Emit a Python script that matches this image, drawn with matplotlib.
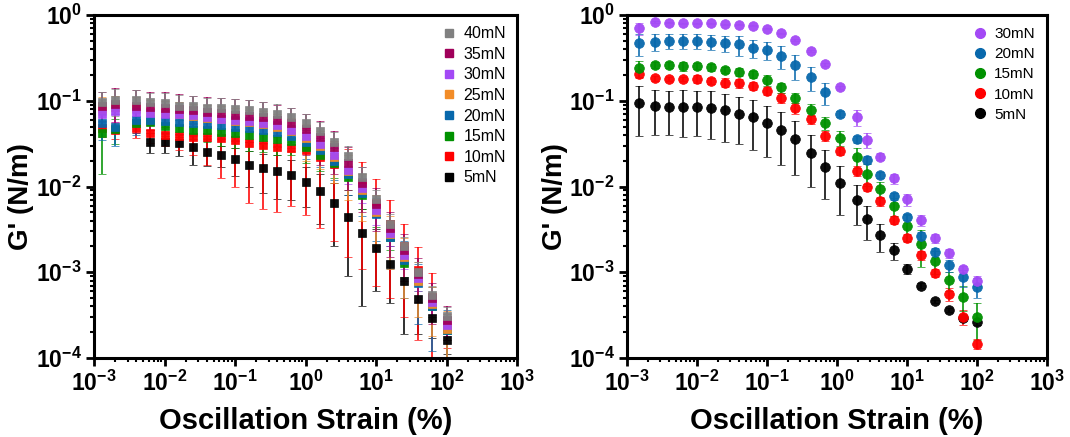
import numpy as np
import matplotlib
matplotlib.use('Agg')
import matplotlib.pyplot as plt
from matplotlib.lines import Line2D
from matplotlib.ticker import LogLocator, FuncFormatter, NullFormatter

plt.rcParams['font.family'] = ['Liberation Sans', 'DejaVu Sans']
plt.rcParams['mathtext.fontset'] = 'custom'
plt.rcParams['mathtext.rm'] = 'Liberation Sans'
plt.rcParams['mathtext.bf'] = 'Liberation Sans:bold'

nan = np.nan

# 歪み (%) : 左図 / 右図
strain_l = [0.0013, 0.002, 0.004, 0.0063, 0.01, 0.016, 0.025, 0.04, 0.063, 0.1, 0.16, 0.25,
            0.4, 0.63, 1.0, 1.6, 2.5, 4.0, 6.3, 10, 16, 25, 40, 63, 100]
strain_r = [0.0015, 0.0025, 0.004, 0.0063, 0.01, 0.016, 0.025, 0.04, 0.063, 0.1, 0.16, 0.25,
            0.42, 0.68, 1.12, 1.9, 2.7, 4.1, 6.5, 10, 16, 25, 40, 63, 100]

# 左図 G' (N/m)
g40 = [0.0975, 0.102, 0.102, 0.096, 0.093, 0.088, 0.087, 0.083, 0.082, 0.080, 0.078, 0.0745,
       0.071, 0.064, 0.055, 0.044, 0.033, 0.0225, 0.013, 0.0071, 0.0037, 0.002, 0.001, 0.00054, 0.00031]
g35 = [0.088, 0.092, 0.087, 0.085, 0.083, 0.080, 0.077, 0.074, 0.072, 0.069, 0.067, 0.064,
       0.060, 0.055, 0.047, 0.038, 0.029, 0.019, 0.011, 0.0063, 0.0033, 0.0018, 0.00095, 0.0005, 0.00028]
g30 = [0.071, 0.076, 0.0745, 0.072, 0.071, 0.0705, 0.068, 0.065, 0.062, 0.060, 0.058, 0.0555,
       0.052, 0.046, 0.039, 0.031, 0.0235, 0.0157, 0.0095, 0.0053, 0.0029, 0.0016, 0.00085, 0.00045, 0.00024]
g25 = [0.080, 0.085, 0.082, 0.074, 0.072, 0.070, 0.066, 0.063, 0.061, 0.058, 0.056, 0.053,
       0.050, 0.044, 0.037, 0.030, 0.022, 0.015, 0.009, 0.005, 0.0028, 0.0015, 0.0008, 0.00043, 0.00022]
g20 = [0.055, 0.050, 0.060, 0.060, 0.058, 0.056, 0.055, 0.054, 0.052, 0.050, 0.048, 0.046,
       0.043, 0.039, 0.033, 0.027, 0.02, 0.014, 0.0085, 0.0048, 0.0026, 0.0014, 0.00075, 0.0004, 0.00021]
g15 = [0.042, 0.0465, 0.0546, 0.057, 0.051, 0.0485, 0.0455, 0.045, 0.0435, 0.042, 0.040, 0.038,
       0.0355, 0.034, 0.029, 0.0233, 0.0187, 0.013, 0.008, 0.0049, 0.0026, 0.00127, 0.00081, 0.0004, 0.00021]
g10 = [0.048, 0.046, 0.0485, 0.042, 0.040, 0.039, 0.038, 0.038, 0.0365, 0.035, 0.0325, 0.0305,
       0.029, 0.028, 0.0267, 0.0223, 0.0183, 0.0145, 0.0101, 0.0065, 0.0037, 0.002, 0.00106, 0.00052, 0.00023]
g5 = [nan, nan, nan, 0.0333, 0.0333, 0.0319, 0.0289, 0.0255, 0.0233, 0.0207, 0.0178, 0.0163,
      0.0152, 0.0136, 0.0114, 0.0089, 0.0065, 0.0044, 0.0029, 0.0019, 0.00124, 0.00079, 0.00049, 0.00029, 0.00016]

e40 = [0.03, 0.035, 0.03, 0.028, 0.03, 0.028, 0.026, 0.025, 0.025, 0.024, 0.023, 0.022,
       0.02, 0.018, 0.016, 0.013, 0.01, 0.007, 0.004, 0.002, 0.0011, 0.0006, 0.0003, 0.00015, 0.00008]
e35 = [0.04, 0.05, 0.045, 0.04, 0.042, 0.04, 0.038, 0.038, 0.036, 0.035, 0.034, 0.032,
       0.03, 0.027, 0.024, 0.02, 0.015, 0.01, 0.006, 0.0033, 0.0018, 0.001, 0.0005, 0.00025, 0.00012]
e30 = [0.015, 0.02, 0.02, 0.018, 0.018, 0.018, 0.017, 0.017, 0.016, 0.016, 0.015, 0.015,
       0.014, 0.013, 0.011, 0.009, 0.007, 0.005, 0.003, 0.0017, 0.0009, 0.0005, 0.00025, 0.00013, 0.00006]
e25 = [0.03, 0.03, 0.03, 0.028, 0.028, 0.027, 0.026, 0.026, 0.025, 0.024, 0.023, 0.022,
       0.021, 0.019, 0.017, 0.014, 0.011, 0.008, 0.005, 0.003, 0.0017, 0.001, 0.0005, 0.00025, 0.00013]
e20 = [0.02, 0.02, 0.02, 0.015, 0.015, 0.015, 0.015, 0.015, 0.015, 0.015, 0.015, 0.014,
       0.014, 0.013, 0.012, 0.01, 0.008, 0.006, 0.004, 0.0025, 0.0015, 0.0009, 0.0005, 0.00028, 0.00015]
e15 = [0.028, 0.015, 0.012, 0.012, 0.012, 0.011, 0.01, 0.012, 0.014, 0.014, 0.014, 0.013,
       0.012, 0.011, 0.01, 0.008, 0.006, 0.004, 0.0025, 0.0015, 0.0008, 0.0004, 0.0002, 0.0001, 0.00005]
e10 = [0.01, 0.01, 0.012, 0.01, 0.01, 0.012, 0.015, 0.02, 0.024, 0.025, 0.026, 0.025,
       0.024, 0.022, 0.022, 0.019, 0.016, 0.013, 0.009, 0.0058, 0.0032, 0.0017, 0.0009, 0.00045, 0.0001]
e5 = [nan, nan, nan, 0.009, 0.009, 0.009, 0.011, 0.008, 0.0065, 0.0075, 0.0078, 0.0078,
      0.008, 0.0066, 0.0056, 0.0052, 0.0045, 0.0035, 0.0025, 0.0013, 0.0008, 0.0006, 0.0003, 0.00012, 0.00005]

# 右図 G' (N/m)
r30 = [0.70, 0.835, 0.81, 0.80, 0.80, 0.80, 0.78, 0.765, 0.745, 0.69, 0.61, 0.51, 0.38, 0.266,
       0.143, 0.064, 0.035, 0.0223, 0.0124, 0.0071, 0.0041, 0.0025, 0.00166, 0.00108, 0.0008]
r20 = [0.47, 0.49, 0.50, 0.50, 0.50, 0.49, 0.47, 0.455, 0.416, 0.39, 0.336, 0.261, 0.19, 0.125,
       0.07, 0.0355, 0.0204, 0.0136, 0.0077, 0.00444, 0.00267, 0.0017, 0.0012, 0.00087, 0.00068]
r15 = [0.239, 0.26, 0.26, 0.254, 0.254, 0.245, 0.228, 0.218, 0.205, 0.175, 0.143, 0.109, 0.079,
       0.055, 0.037, 0.0223, 0.0141, 0.0094, 0.0059, 0.0035, 0.00214, 0.00136, 0.00081, 0.00052, 0.0003]
r10 = [0.205, 0.182, 0.178, 0.178, 0.18, 0.171, 0.163, 0.16, 0.149, 0.131, 0.109, 0.083, 0.061,
       0.039, 0.026, 0.0152, 0.0098, 0.0068, 0.0041, 0.00253, 0.00159, 0.00098, 0.00056, 0.0003, 0.000146]
r5 = [0.093, 0.087, 0.085, 0.085, 0.085, 0.083, 0.077, 0.071, 0.064, 0.055, 0.0456, 0.0355, 0.0248,
      0.017, 0.0111, 0.0070, 0.0042, 0.0027, 0.0018, 0.0011, 0.0007, 0.00046, 0.00036, 0.00029, 0.000265]

re30 = [0.11, 0.02, 0.01, 0.01, 0.01, 0.01, 0.01, 0.01, 0.01, 0.01, 0.01, 0.01, 0.01, 0.01,
        0.005, 0.013, 0.007, 0.002, 0.0017, 0.0011, 0.0006, 0.0003, 0.0002, 0.0001, 0.0001]
re20 = [0.135, 0.11, 0.1, 0.1, 0.1, 0.1, 0.1, 0.12, 0.1, 0.09, 0.1, 0.085, 0.06, 0.035,
        0.005, 0.003, 0.002, 0.001, 0.0007, 0.0004, 0.0003, 0.0002, 0.0002, 0.0002, 0.00018]
re15 = [0.05, 0.02, 0.02, 0.03, 0.02, 0.02, 0.02, 0.025, 0.02, 0.025, 0.02, 0.015, 0.012, 0.01,
        0.007, 0.006, 0.004, 0.002, 0.0014, 0.0012, 0.001, 0.0004, 0.0002, 0.00017, 0.00014]
re10 = [0.02, 0.01, 0.01, 0.01, 0.02, 0.015, 0.02, 0.02, 0.015, 0.015, 0.015, 0.012, 0.008,
        0.005, 0.003, 0.002, 0.001, 0.0008, 0.0004, 0.0003, 0.0002, 0.0001, 0.0001, 0.00006, 0.00002]
re5 = [0.054, 0.047, 0.045, 0.047, 0.046, 0.047, 0.044, 0.040, 0.037, 0.033, 0.028, 0.022, 0.015,
       0.0099, 0.0064, 0.0034, 0.0018, 0.001, 0.0004, 0.00015, 0.00005, 0.00002, 0.00002, 0.00002, 0.00002]

labels_l = ['5mN', '10mN', '15mN', '20mN', '25mN', '30mN', '35mN', '40mN']
colors_l = ['#000000', '#ff0000', '#009100', '#0868ac', '#f28c28', '#a349f5', '#a0005a', '#808080']
data_l = [g5, g10, g15, g20, g25, g30, g35, g40]
err_l = [e5, e10, e15, e20, e25, e30, e35, e40]

labels_r = ['5mN', '10mN', '15mN', '20mN', '30mN']
colors_r = ['#000000', '#ff0000', '#009100', '#0868ac', '#a349f5']
data_r = [r5, r10, r15, r20, r30]
err_r = [re5, re10, re15, re20, re30]


def fmt_pow(v, pos):
    e = int(round(np.log10(v)))
    return r'$\mathbf{10^{%d}}$' % e


def style_axis(ax):
    ax.set_xscale('log')
    ax.set_yscale('log')
    ax.set_xlim(1e-3, 1e3)
    ax.set_ylim(1e-4, 1)
    for s in ax.spines.values():
        s.set_linewidth(2.2)
    for axis in (ax.xaxis, ax.yaxis):
        axis.set_major_locator(LogLocator(base=10, numticks=10))
        axis.set_minor_locator(LogLocator(base=10, subs=np.arange(2, 10), numticks=10))
        axis.set_major_formatter(FuncFormatter(fmt_pow))
        axis.set_minor_formatter(NullFormatter())
    ax.tick_params(which='major', direction='out', length=6, width=2, labelsize=16.5, pad=3)
    ax.tick_params(which='minor', direction='out', length=3, width=1.5)
    ax.set_xlabel('Oscillation Strain (%)', fontsize=21, fontweight='bold')
    ax.set_ylabel("G' (N/m)", fontsize=20, fontweight='bold')
    ax.xaxis.set_label_coords(0.5, -0.143)


fig = plt.figure(figsize=(10.7, 4.37), dpi=100)
ax1 = fig.add_axes([94 / 1070, 1 - 358 / 437, 423 / 1070, 343 / 437])
ax2 = fig.add_axes([627 / 1070, 1 - 358 / 437, 420 / 1070, 343 / 437])

# 左図：四角マーカー
for y, e, c in zip(data_l, err_l, colors_l):
    ax1.errorbar(strain_l, y, yerr=e, fmt='s', color=c, ms=6, mec=c, mew=0.5,
                 elinewidth=1.2, capsize=3, capthick=1.2, alpha=0.95)
handles_l = [Line2D([], [], ls='none', marker='s', ms=6, color=c, label=l)
             for l, c in zip(labels_l, colors_l)][::-1]
ax1.legend(handles=handles_l, loc='upper right', frameon=False, fontsize=11.5,
           handletextpad=0.3, labelspacing=0.35, borderaxespad=0.3, handlelength=1.2)
style_axis(ax1)
ax1.yaxis.set_label_coords(-0.142, 0.47)

# 右図：丸マーカー
for y, e, c in zip(data_r, err_r, colors_r):
    ax2.errorbar(strain_r, y, yerr=e, fmt='o', color=c, ms=7, mec=c, mew=0.5,
                 elinewidth=1.2, capsize=3, capthick=1.2, alpha=0.95)
handles_r = [Line2D([], [], ls='none', marker='o', ms=7, color=c, label=l)
             for l, c in zip(labels_r, colors_r)][::-1]
ax2.legend(handles=handles_r, loc='upper right', frameon=False, fontsize=11,
           handletextpad=0.3, labelspacing=0.4, borderaxespad=0.4, handlelength=1.2)
style_axis(ax2)
ax2.yaxis.set_label_coords(-0.14, 0.47)

fig.savefig('out.png', dpi=100)
